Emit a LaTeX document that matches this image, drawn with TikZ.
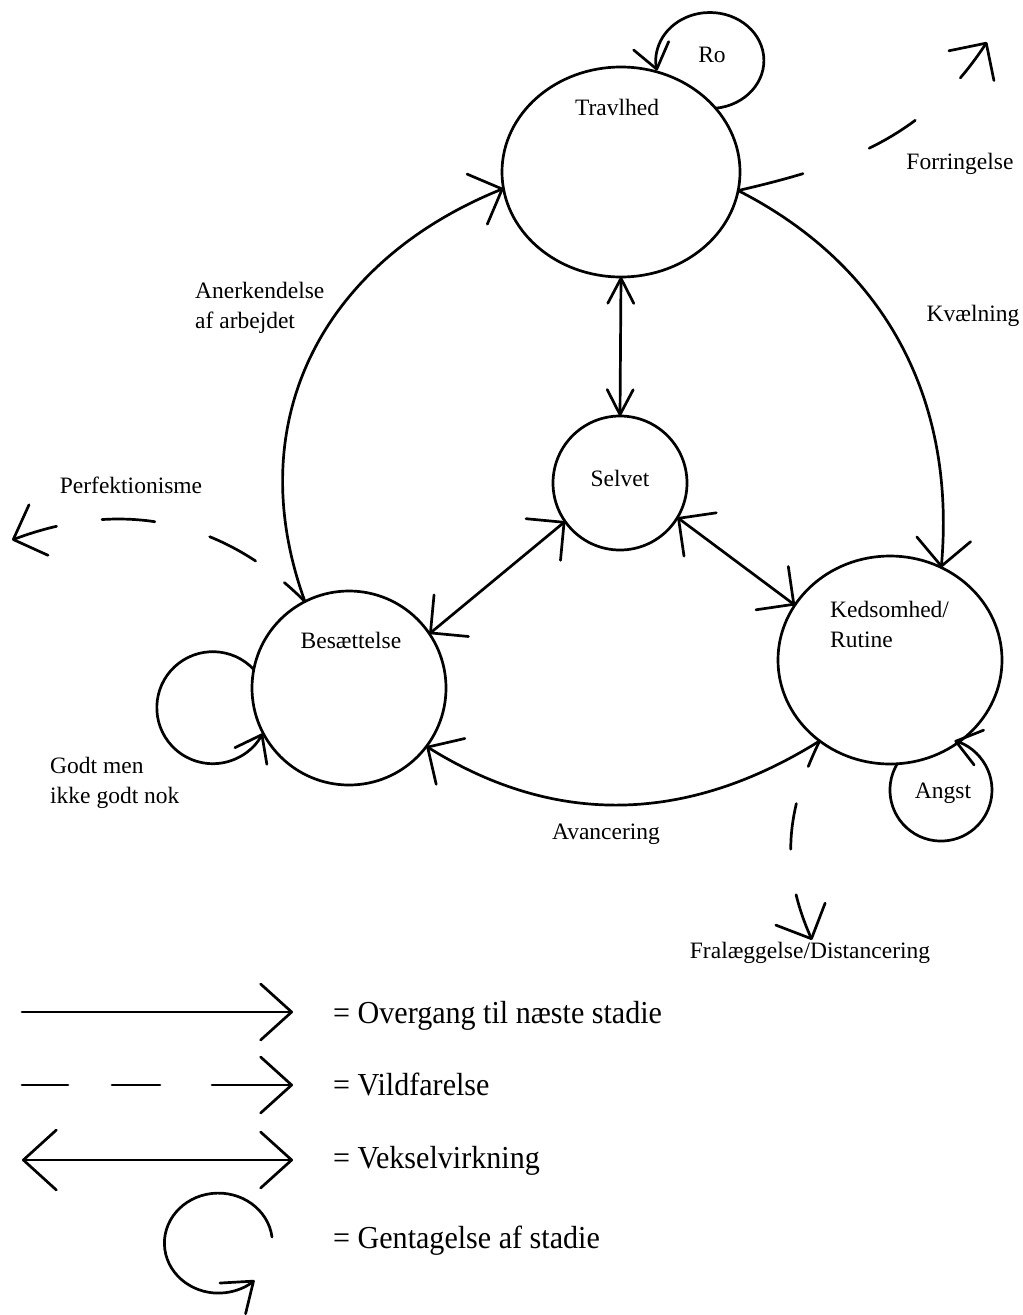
\documentclass[tikz,border=0pt]{standalone}
\usepackage{fontspec}
\setmainfont{Liberation Serif}
\newfontfamily\legendfont[FakeStretch=0.94]{Liberation Serif}
\usetikzlibrary{arrows.meta,shapes.geometric}
\begin{document}
\begin{tikzpicture}[x=1pt,y=1pt,
  ln/.style={line width=2.7pt, line cap=round},
  stage/.style={ellipse, draw, line width=2.7pt, inner sep=0pt, outer sep=0pt, fill=white},
  hd/.style={-{Straight Barb[length=27pt,width=54pt,round]}},
  dhd/.style={{Straight Barb[length=27pt,width=54pt,round]}-{Straight Barb[length=27pt,width=54pt,round]}},
  vhd/.style={{Straight Barb[length=25pt,width=26pt,round]}-{Straight Barb[length=25pt,width=26pt,round]}},
  lhd/.style={-{Straight Barb[length=24pt,width=36pt,round]}},
  lbl/.style={anchor=base, inner sep=0pt, font=\fontsize{23.5}{30}\selectfont},
  lbw/.style={anchor=base west, inner sep=0pt, font=\fontsize{23.5}{30}\selectfont},
  leg/.style={anchor=base west, inner sep=0pt, font=\legendfont\fontsize{32}{36}\selectfont},
]
\useasboundingbox (0,0) rectangle (1023,-1315);

% stages
\node[stage, minimum width=238pt, minimum height=210pt] (T) at (621,-172) {};
\node[stage, minimum width=134pt, minimum height=134pt] (S) at (620,-483) {};
\node[stage, minimum width=194pt, minimum height=194pt] (B) at (349,-688) {};
\node[stage, minimum width=224pt, minimum height=208pt] (K) at (890,-660) {};

% stage labels
\node[lbl] (tT) at (617,-115) {Travlhed};
\node[lbl] (tS) at (620,-486) {Selvet};
\node[lbl] (tB) at (351,-648) {Besættelse};
\node[lbw] (tK1) at (830,-617) {Kedsomhed/};
\node[lbw] (tK2) at (830,-647) {Rutine};

% repetition loops
\draw[ln, lhd] (T.34) arc[start angle=-84, end angle=192, x radius=54, y radius=48];
\node[lbl] (tRo) at (712,-62) {Ro};
\draw[ln, lhd] (B.169) arc[start angle=43, end angle=332.6, radius=56];
\node[lbw] (tG1) at (50,-773) {Godt men};
\node[lbw] (tG2) at (50,-803) {ikke godt nok};
\draw[ln, lhd] (K.-86) arc[start angle=149, end angle=434.7, radius=51];
\node[lbl] (tA) at (943,-798) {Angst};

% transitions
\draw[ln, hd] (B.117) to[out=110, in=202, looseness=1.08] (T.188.6);
\node[lbw] (tAn1) at (195,-298) {Anerkendelse};
\node[lbw] (tAn2) at (195,-328) {af arbejdet};
\draw[ln, hd] (T.-9.7) to[out=-27, in=85] (K.61.5);
\node[lbl] (tKv) at (973,-321) {Kvælning};
\draw[ln, hd] (K.229.5) to[out=212, in=-32] (B.-37.6);
\node[lbl] (tAv) at (606,-839) {Avancering};

% interactions
\draw[ln, vhd] (T.270) -- (S.90);
\draw[ln, dhd] (S.215.8) -- (B.34.5);
\draw[ln, dhd] (S.-31.1) -- (K.150);

% aberrations
\coordinate (perfEnd) at (12,-540);
\coordinate (forEnd) at (987,-42);
\coordinate (fralEnd) at (812,-940);
\draw[ln, hd, dash pattern=on 28pt off 36pt on 52pt off 57pt on 53pt off 46pt on 120pt]
  (B.117) to[out=135, in=20.6] (perfEnd);
\node[lbl] (tPe) at (131,-493) {Perfektionisme};
\draw[ln, hd, dash pattern=on 67pt off 71pt on 54pt off 62pt on 120pt]
  (T.-9.7) to[out=13, in=236.6] (forEnd);
\node[lbl] (tFo) at (960,-169) {Forringelse};
\draw[ln, hd, dash pattern=on 28pt off 39pt on 46pt off 46pt on 120pt]
  (K.229.5) to[out=244, in=114] (fralEnd);
\node[lbl] (tFr) at (810,-958) {Fralæggelse/Distancering};

% legend
\coordinate (l1a) at (22,-1012); \coordinate (l1b) at (293,-1012);
\coordinate (l2a) at (22,-1085); \coordinate (l2b) at (293,-1085);
\coordinate (l3a) at (22,-1160); \coordinate (l3b) at (293,-1160);
\coordinate (l4a) at (272,-1237);
\draw[ln, -{Straight Barb[length=31pt,width=56pt,round]}] (l1a) -- (l1b);
\draw[ln, dash pattern=on 46pt off 44pt on 48pt off 52pt on 120pt, -{Straight Barb[length=31pt,width=56pt,round]}] (l2a) -- (l2b);
\draw[ln, {Straight Barb[length=33pt,width=60pt,round]}-{Straight Barb[length=31pt,width=56pt,round]}] (l3a) -- (l3b);
\draw[ln, -{Straight Barb[length=27pt,width=40pt,round]}] (l4a) arc[start angle=7, end angle=312, x radius=54, y radius=50];
\node[leg] (g1) at (333,-1023) {= Overgang til næste stadie};
\node[leg] (g2) at (333,-1095) {= Vildfarelse};
\node[leg] (g3) at (333,-1168) {= Vekselvirkning};
\node[leg] (g4) at (333,-1248) {= Gentagelse af stadie};
\end{tikzpicture}
\end{document}
